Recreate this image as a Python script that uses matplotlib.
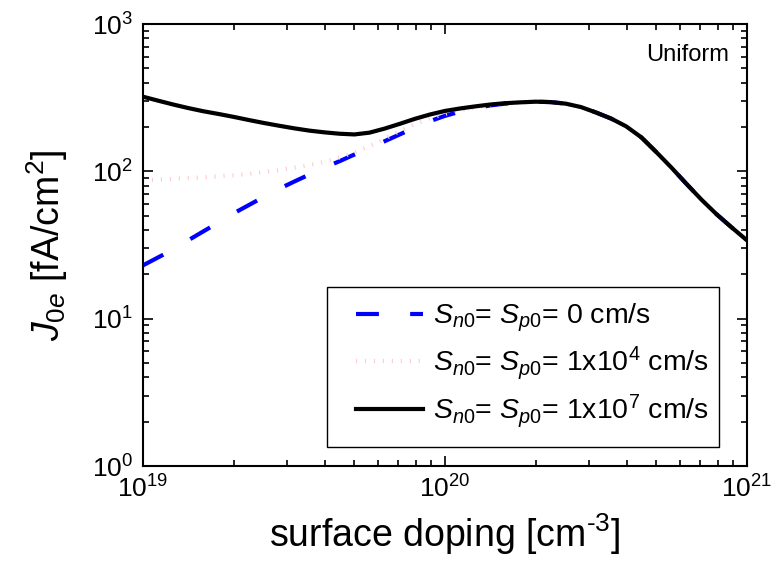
import matplotlib
matplotlib.use("Agg")
import matplotlib.pyplot as plt
from matplotlib.patches import Rectangle
from matplotlib.ticker import LogLocator, LogFormatterMathtext, NullFormatter

plt.rcParams['font.family'] = ['Liberation Sans', 'DejaVu Sans']
plt.rcParams['mathtext.fontset'] = 'custom'
plt.rcParams['mathtext.rm'] = 'Liberation Sans'
plt.rcParams['mathtext.it'] = 'Liberation Sans:italic'
plt.rcParams['mathtext.bf'] = 'Liberation Sans:bold'

# surface doping [cm^-3]
doping = [1.00e19, 1.12e19, 1.26e19, 1.41e19, 1.58e19, 1.78e19, 2.00e19, 2.24e19, 2.51e19, 2.82e19,
          3.16e19, 3.55e19, 3.98e19, 4.47e19, 5.01e19, 5.62e19, 6.31e19, 7.08e19, 7.94e19, 8.91e19,
          1.00e20, 1.12e20, 1.26e20, 1.41e20, 1.58e20, 1.78e20, 2.00e20, 2.24e20, 2.51e20, 2.82e20,
          3.16e20, 3.55e20, 3.98e20, 4.47e20, 5.01e20, 5.62e20, 6.31e20, 7.08e20, 7.94e20, 8.91e20,
          1.00e21]

# J0e [fA/cm^2]
j0e_s0 = [23, 26, 29.5, 34, 39, 45, 52, 59, 67, 76,
          85, 95, 106, 117, 130, 144, 160, 178, 198, 219,
          238, 254, 268, 280, 288, 293, 297, 295, 288, 273,
          251, 228, 202, 170, 135, 106, 82, 64, 51, 41.5,
          34]
j0e_s1e4 = [87, 88, 89, 90, 91, 92.5, 94, 96, 99, 102,
            106, 110, 116, 124, 134, 148, 166, 187, 209, 229,
            245, 259, 271, 282, 289, 294, 297, 295, 288, 273,
            251, 228, 202, 170, 135, 106, 82, 64, 51, 41.5,
            34]
j0e_s1e7 = [321, 302, 284, 269, 256, 245, 234, 223, 213, 204,
            196, 189, 184, 180, 178, 183, 195, 210, 227, 243,
            257, 267, 276, 284, 290, 294, 297, 295, 288, 273,
            251, 228, 202, 170, 135, 106, 82, 64, 51, 41.5,
            34]

labels = [r'$\mathit{S}_{\mathit{n0}}$= $\mathit{S}_{\mathit{p0}}$= 0 cm/s',
          r'$\mathit{S}_{\mathit{n0}}$= $\mathit{S}_{\mathit{p0}}$= 1x10$^{4}$ cm/s',
          r'$\mathit{S}_{\mathit{n0}}$= $\mathit{S}_{\mathit{p0}}$= 1x10$^{7}$ cm/s']

fig = plt.figure(figsize=(7.76, 5.73), dpi=100)
ax = fig.add_axes([143/776, 1 - 466/573, 604/776, 442/573])

ax.plot(doping, j0e_s0, color='#0000ff', lw=3, dashes=(5.5, 7.5), label=labels[0])
ax.plot(doping, j0e_s1e4, color='#ffc8c8', lw=3, dashes=(0.25, 1.9), label=labels[1])
ax.plot(doping, j0e_s1e7, color='black', lw=3, label=labels[2])

ax.set_xscale('log')
ax.set_yscale('log')
ax.set_xlim(1e19, 1e21)
ax.set_ylim(1, 1e3)

for a in (ax.xaxis, ax.yaxis):
    a.set_major_locator(LogLocator(base=10, numticks=10))
    a.set_minor_locator(LogLocator(base=10, subs=range(2, 10), numticks=20))
    a.set_major_formatter(LogFormatterMathtext())
    a.set_minor_formatter(NullFormatter())

ax.tick_params(which='both', direction='in', top=True, right=True, width=1.2, labelsize=19)
ax.tick_params(which='major', length=7, pad=7)
ax.tick_params(which='minor', length=4)
for s in ax.spines.values():
    s.set_linewidth(1.5)

ax.set_xlabel(r'surface doping [cm$^{\text{-}3}$]', fontsize=27, labelpad=6)
ax.set_ylabel(r'$\mathit{J}_{\mathit{0e}}$ [fA/cm$^{2}$]', fontsize=27, labelpad=16)

ax.text(0.97, 0.955, 'Uniform', transform=ax.transAxes, ha='right', va='top', fontsize=17)

# legend frame drawn separately, entries placed inside it
ax.add_patch(Rectangle((0.305, 0.043), 0.649, 0.362, transform=ax.transAxes,
                       facecolor='white', edgecolor='black', lw=1.0, zorder=4))
leg = ax.legend(loc='center left', bbox_to_anchor=(0.3526, 0.226), borderaxespad=0, borderpad=0,
                fontsize=20.5, frameon=False, handlelength=2.35, handletextpad=0.35,
                labelspacing=0.37)
leg.set_zorder(5)

fig.savefig('out.png', dpi=100)
